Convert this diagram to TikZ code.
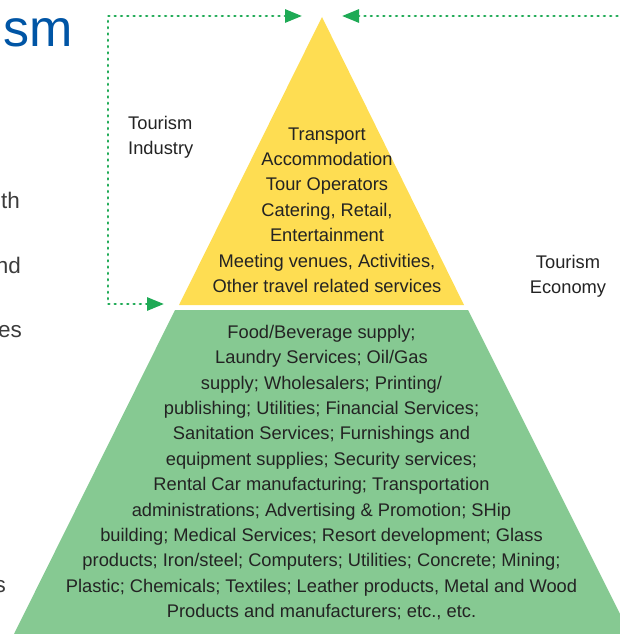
\documentclass[tikz,border=0pt]{standalone}
\usepackage{fontspec}
\setmainfont{Liberation Sans}
\usetikzlibrary{arrows.meta}
\definecolor{pyrYellow}{RGB}{254,221,82}
\definecolor{pyrGreen}{RGB}{134,201,146}
\definecolor{arrGreen}{RGB}{30,170,85}
\definecolor{titleBlue}{RGB}{0,85,165}
\definecolor{txt}{RGB}{35,35,35}
\definecolor{sidetxt}{RGB}{60,60,60}
\begin{document}
\begin{tikzpicture}[x=1pt,y=-1pt,
  lbl/.style={font=\fontsize{18.3}{25.4}\selectfont, text=txt, align=center, inner sep=0pt},
  sidelbl/.style={lbl, align=left},
  frag/.style={font=\fontsize{22.5}{25}\selectfont, text=sidetxt, inner sep=0pt, anchor=base east},
  dotline/.style={draw=arrGreen, line width=2.8pt, line cap=round, dash pattern=on 0.8pt off 5.5pt},
  arrtip/.style={-{Triangle[length=17pt,width=13pt]}},
]
\useasboundingbox (0,0) rectangle (619,634);
% pyramid shapes
\fill[pyrYellow] (322,17) -- (464,305) -- (179,305) -- cycle;
\fill[pyrGreen] (175,310) -- (468,310) -- (630,634) -- (14,634) -- cycle;
% coordinates for connectors
\coordinate (topL) at (302,16);
\coordinate (topR) at (342,16);
\coordinate (corner) at (108,304);
\coordinate (baseL) at (164,304);
\coordinate (rightEnd) at (630,16);
% connectors
\draw[dotline, {Triangle[length=17pt,width=13pt]}-{Triangle[length=17pt,width=13pt]}]
  (topL) -| (corner) -- (baseL);
\draw[dotline, arrtip] (rightEnd) -- (topR);
% texts
\node[lbl] (industry) at (327,210) {Transport\\Accommodation\\Tour Operators\\Catering, Retail,\\Entertainment\\Meeting venues, Activities,\\Other travel related services};
\node[lbl] (supply) at (321.5,472.5) {Food/Beverage supply;\\Laundry Services; Oil/Gas\\supply; Wholesalers; Printing/\\publishing; Utilities; Financial Services;\\Sanitation Services; Furnishings and\\equipment supplies; Security services;\\Rental Car manufacturing; Transportation\\administrations; Advertising \& Promotion; SHip\\building; Medical Services; Resort development; Glass\\products; Iron/steel; Computers; Utilities; Concrete; Mining;\\Plastic; Chemicals; Textiles; Leather products, Metal and Wood\\Products and manufacturers; etc., etc.};
\node[sidelbl, anchor=west] (tind) at (128,137) {Tourism\\Industry};
\node[lbl] (tecon) at (568,276) {Tourism\\Economy};
% cut-off fragments at the left edge
\node[font=\fontsize{52}{54}\selectfont, text=titleBlue, inner sep=0pt, anchor=base east] (title) at (73,47) {sm};
\node[frag] (f1) at (20,208) {th};
\node[frag] (f2) at (21,273) {nd};
\node[frag] (f3) at (22,337) {es};
\node[frag] (f4) at (6,592) {s};
\end{tikzpicture}
\end{document}
